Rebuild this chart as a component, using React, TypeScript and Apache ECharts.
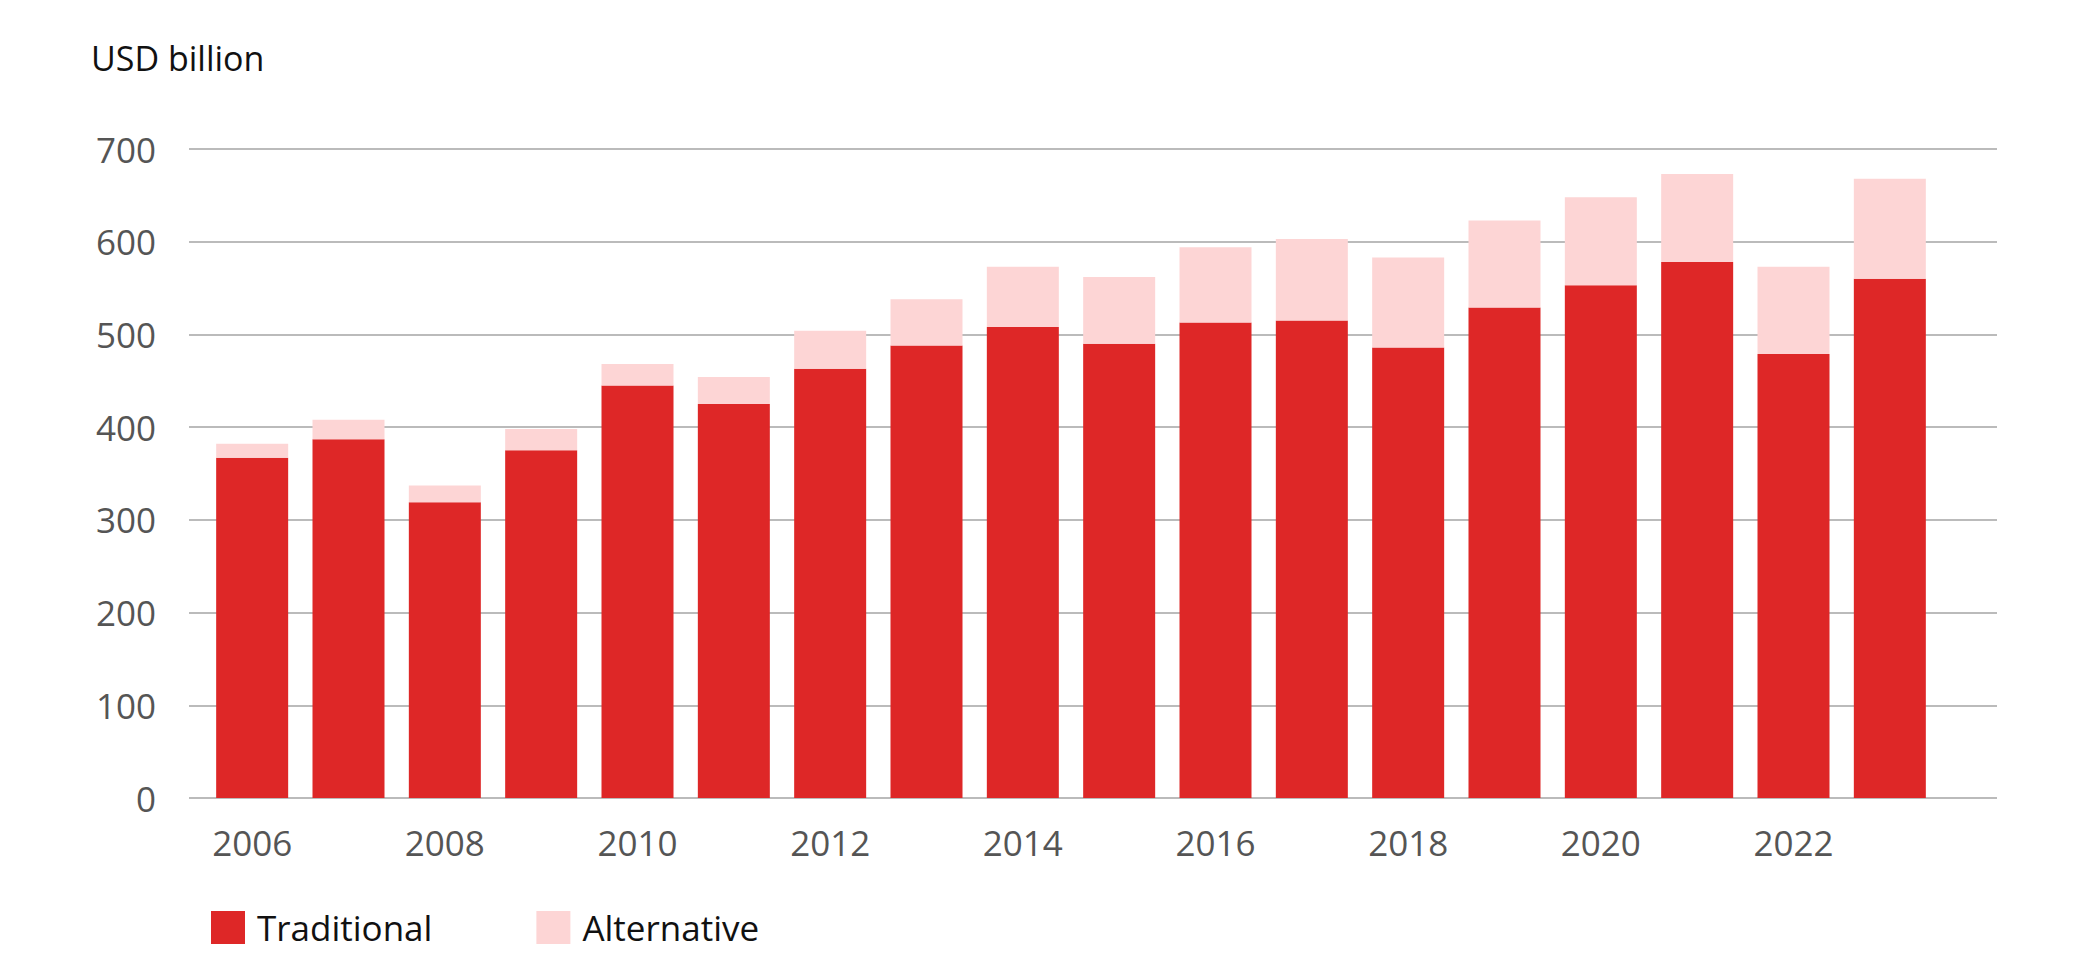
import { useEffect, useRef } from 'react';
import * as echarts from 'echarts';

/* ───── Data (USD billion) ───── */
const years = ['2006', '2007', '2008', '2009', '2010', '2011', '2012', '2013', '2014', '2015', '2016', '2017', '2018', '2019', '2020', '2021', '2022', '2023'];
const traditional = [367, 387, 319, 375, 445, 425, 463, 488, 508, 490, 513, 515, 486, 529, 553, 578, 479, 560];
const alternative = [15, 21, 18, 23, 23, 29, 41, 50, 65, 72, 81, 88, 97, 94, 95, 95, 94, 108];
const yTicks = { min: 0, max: 700, interval: 100 };

const RED = '#de2727';
const PINK = '#fdd5d5';
const FONT = '"Open Sans", "Noto Sans", sans-serif';

export default function App() {
  const chartRef = useRef<HTMLDivElement>(null);

  useEffect(() => {
    if (!chartRef.current) return;
    const chart = echarts.init(chartRef.current, undefined, { renderer: 'svg' });
    chart.setOption({
      animation: false,
      backgroundColor: '#fff',
      textStyle: { fontFamily: FONT },
      title: {
        text: 'USD billion', left: 86, top: 36,
        textStyle: { fontFamily: FONT, fontSize: 34, fontWeight: 'normal', color: '#111' },
      },
      legend: {
        data: ['Traditional', 'Alternative'],
        left: 211, top: 910, padding: 0,
        icon: 'rect', itemWidth: 34, itemHeight: 33, itemGap: 104,
        textStyle: { fontFamily: FONT, fontSize: 35, color: '#111', padding: [0, 0, 0, 7] },
      },
      grid: [
        // wide grid: carries the gridlines and y labels
        { left: 189, right: 101, top: 149, height: 649 },
        // bar grid: bars sit narrower than the gridlines
        { left: 204, right: 160, top: 149, height: 649 },
      ],
      xAxis: [
        { gridIndex: 0, type: 'category', data: years, show: false },
        {
          gridIndex: 1, type: 'category', data: years,
          axisLine: { show: false }, axisTick: { show: false },
          axisLabel: { interval: 1, fontSize: 35, color: '#555', margin: 27, fontFamily: FONT },
        },
      ],
      yAxis: [
        {
          gridIndex: 0, type: 'value', ...yTicks,
          axisLine: { show: false }, axisTick: { show: false },
          axisLabel: { fontSize: 35, color: '#555', margin: 33, fontFamily: FONT },
          splitLine: { lineStyle: { color: '#bbb', width: 2 } },
        },
        { gridIndex: 1, type: 'value', ...yTicks, show: false, splitLine: { show: false } },
      ],
      series: [
        {
          name: 'Traditional', type: 'bar', stack: 'total', xAxisIndex: 1, yAxisIndex: 1,
          data: traditional, barWidth: 72, itemStyle: { color: RED },
        },
        {
          name: 'Alternative', type: 'bar', stack: 'total', xAxisIndex: 1, yAxisIndex: 1,
          data: alternative, barWidth: 72, itemStyle: { color: PINK },
        },
      ],
    });
    return () => { chart.dispose(); };
  }, []);

  return (
    <div
      ref={chartRef}
      style={{ position: 'absolute', left: 0, top: 0, width: 2098, height: 973, background: '#fff' }}
    />
  );
}
